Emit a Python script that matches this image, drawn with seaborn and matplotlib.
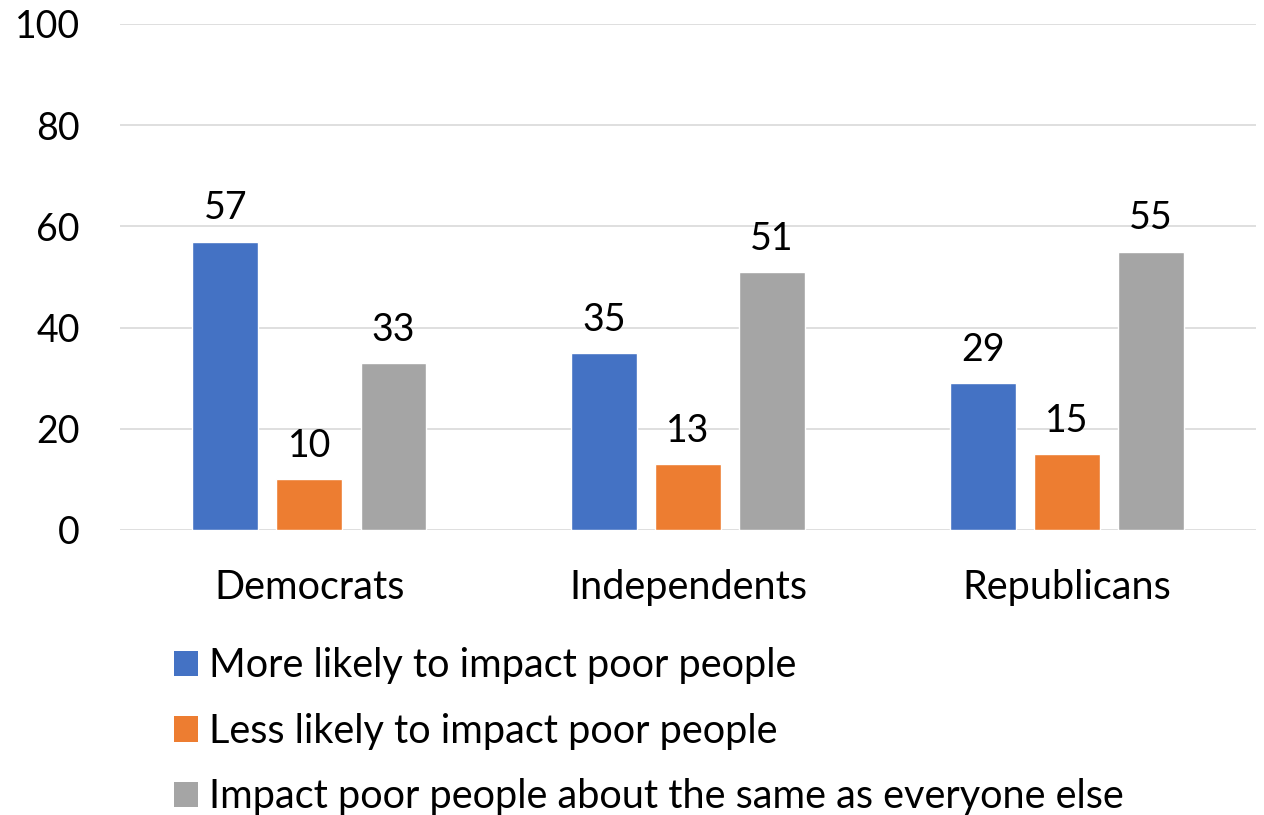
import matplotlib
matplotlib.use("Agg")
import matplotlib.pyplot as plt
import seaborn as sns
import pandas as pd
from matplotlib.patches import Patch

categories = ["Democrats", "Independents", "Republicans"]
series_names = ["More likely to impact poor people",
                "Less likely to impact poor people",
                "Impact poor people about the same as everyone else"]
more_likely = [57, 35, 29]
less_likely = [10, 13, 15]
about_same = [33, 51, 55]
colors = ["#4472C4", "#ED7D31", "#A5A5A5"]
y_ticks = [0, 20, 40, 60, 80, 100]

rows = []
for name, vals in zip(series_names, [more_likely, less_likely, about_same]):
    for c, v in zip(categories, vals):
        rows.append({"Party": c, "Series": name, "Value": v})
df = pd.DataFrame(rows)

sns.set_theme(style="white")
plt.rcParams['font.family'] = ['Lato', 'DejaVu Sans']
plt.rcParams['text.color'] = 'black'
plt.rcParams['xtick.color'] = 'black'
plt.rcParams['ytick.color'] = 'black'

fig = plt.figure(figsize=(12.64, 8.15), dpi=100)
ax = fig.add_axes([0.095, 0.3497, 0.8987, 0.6209])

sns.barplot(data=df, x="Party", y="Value", hue="Series", hue_order=series_names,
            palette=colors, width=0.666, gap=0.216, ax=ax, legend=False,
            saturation=1, errorbar=None)

ax.set_ylim(0, 100)
ax.set_xlim(-0.5, 2.5)
ax.set_yticks(y_ticks)
ax.set_yticklabels([str(t) for t in y_ticks], fontsize=27, color="black")
ax.set_xticks(range(len(categories)))
ax.set_xticklabels(categories, fontsize=28.5, color="black")
ax.tick_params(axis='x', pad=28, length=0)
ax.tick_params(axis='y', pad=29, length=0)
ax.yaxis.grid(True, color="#D9D9D9", linewidth=1.2)
ax.set_axisbelow(True)
for s in ax.spines.values():
    s.set_visible(False)
ax.set_xlabel("")
ax.set_ylabel("")

for cont in ax.containers:
    ax.bar_label(cont, labels=[f"{int(v)}" for v in cont.datavalues],
                 padding=11, fontsize=27, color="black")

handles = [Patch(facecolor=c, edgecolor='none') for c in colors]
fig.legend(handles, series_names, loc="upper left", bbox_to_anchor=(0.125, 0.225),
           frameon=False, fontsize=28.5, handlelength=0.6, handleheight=0.6,
           handletextpad=0.3, labelspacing=0.72, borderaxespad=0, labelcolor="black")

fig.savefig("out.png", dpi=100)
